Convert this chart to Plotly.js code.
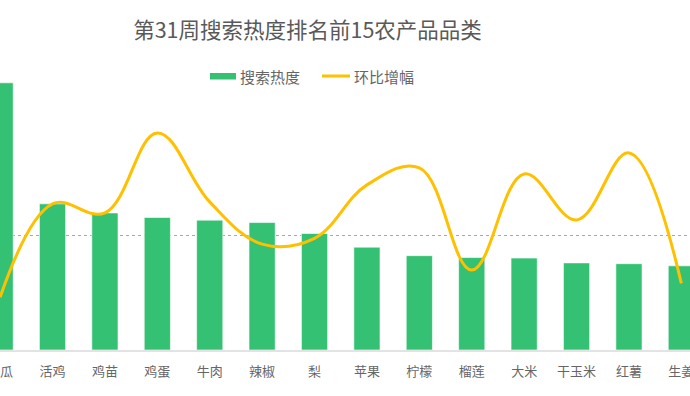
<!DOCTYPE html>
<html>
<head>
<meta charset="utf-8">
<script src="https://cdn.plot.ly/plotly-3.0.1.min.js"></script>
<style>html,body{margin:0;padding:0;background:#fff;}#chart{width:690px;height:396px;}</style>
</head>
<body>
<div id="chart"></div>
<script>
const categories = ["西瓜","活鸡","鸡苗","鸡蛋","牛肉","辣椒","梨","苹果","柠檬","榴莲","大米","干玉米","红薯","生姜"];
const searchHeat = [100, 54.7, 51.3, 49.6, 48.6, 47.7, 43.6, 38.5, 35.3, 34.6, 34.4, 32.6, 32.3, 31.5];
const momGrowth = [-31.0, 15.7, 11.2, 51.2, 16.7, -4.4, -1.5, 25.2, 33.7, -17.4, 30.7, 7.7, 41.2, -24.0];
const seriesNames = ['搜索热度', '环比增幅'];

const font = "'Noto Sans CJK SC', 'Noto Sans', sans-serif";
const GREEN = '#35C173', GOLD = '#FFC000';
const W = 690, H = 396, T = 60, B = 46, PH = H - T - B;
const px = v => v / W;
const py = v => (H - B - v) / PH;

const traces = [
  {
    type: 'bar', name: seriesNames[0], x: categories, y: searchHeat,
    marker: {color: GREEN, line: {color: 'rgba(255,255,255,0.6)', width: 1}},
    width: 0.5, showlegend: false
  },
  {
    type: 'scatter', mode: 'lines', name: seriesNames[1], x: categories, y: momGrowth, yaxis: 'y2',
    line: {color: GOLD, width: 3, shape: 'spline', smoothing: 1.1}, showlegend: false
  }
];
const layout = {
  width: W, height: H,
  margin: {l: 0, r: 0, t: T, b: B, pad: 0, autoexpand: false},
  paper_bgcolor: '#fff', plot_bgcolor: '#fff',
  font: {family: font, color: '#666'},
  title: {text: '第31周搜索热度排名前15农产品品类', font: {family: font, size: 21.5, color: '#595959'},
          x: 307.5/W, xanchor: 'center', xref: 'paper', y: 1 - 30/H, yref: 'container', yanchor: 'middle'},
  showlegend: false,
  shapes: [
    {type: 'rect', xref: 'paper', yref: 'paper', x0: px(210), x1: px(236), y0: py(73), y1: py(79.5),
     fillcolor: GREEN, line: {width: 0}},
    {type: 'line', xref: 'paper', yref: 'paper', x0: px(322), x1: px(350), y0: py(76), y1: py(76),
     line: {color: GOLD, width: 3}}
  ],
  annotations: [
    {text: seriesNames[0], xref: 'paper', yref: 'paper', x: px(238), y: py(76), xanchor: 'left', yanchor: 'middle',
     showarrow: false, font: {family: font, size: 15, color: '#666'}},
    {text: seriesNames[1], xref: 'paper', yref: 'paper', x: px(351.5), y: py(76), xanchor: 'left', yanchor: 'middle',
     showarrow: false, font: {family: font, size: 15, color: '#666'}}
  ],
  xaxis: {type: 'category', range: [-0.002, 13.165], automargin: false, showgrid: false, zeroline: false,
          showline: true, linecolor: '#e3e3e3', linewidth: 2, ticks: '', ticklabelstandoff: 8,
          tickfont: {family: font, size: 13, color: '#666'}, fixedrange: true},
  yaxis: {range: [0, 108.53], visible: false, showgrid: false, zeroline: false, automargin: false},
  yaxis2: {overlaying: 'y', side: 'right', range: [-57.35, 87.65], showgrid: true, tickvals: [0],
           gridcolor: '#a8a8a8', griddash: '3px,3px', gridwidth: 1, showticklabels: false, zeroline: false,
           ticks: '', showline: false, automargin: false},
  bargap: 0.5
};
Plotly.newPlot('chart', traces, layout, {displayModeBar: false, staticPlot: true});
</script>
</body>
</html>
